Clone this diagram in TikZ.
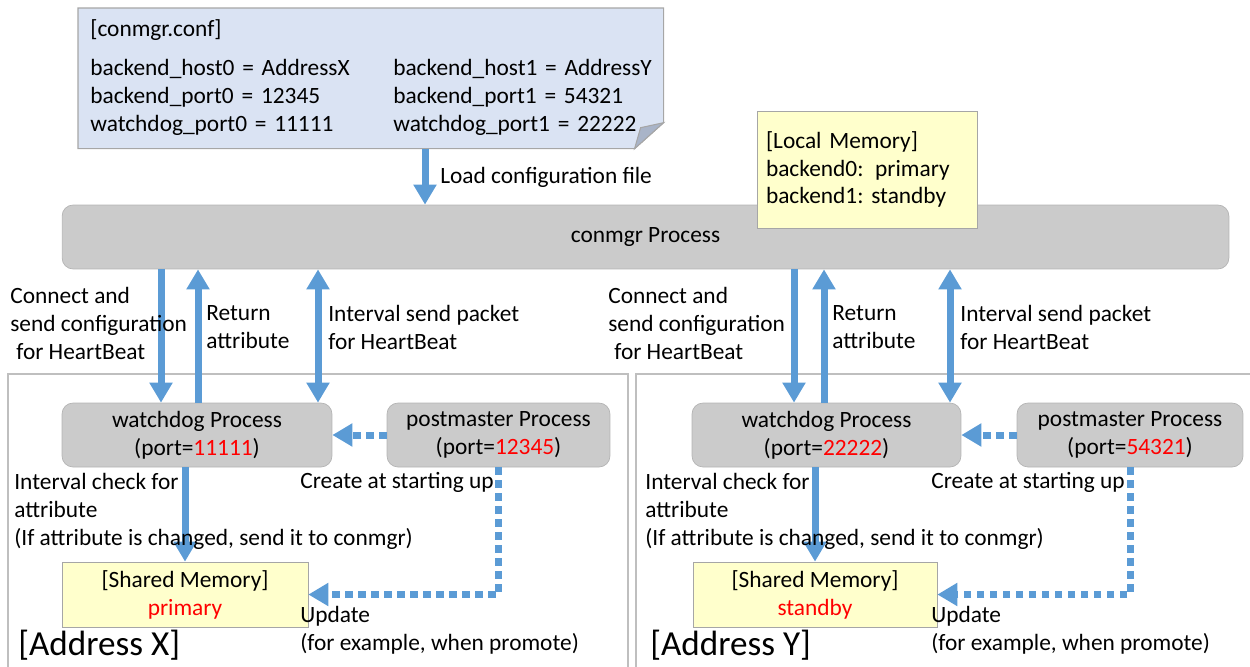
\documentclass[tikz,border=0pt]{standalone}
\usepackage{fontspec}
\setmainfont{Carlito}
\usepackage{xcolor}
\usetikzlibrary{arrows.meta,positioning,backgrounds}
\frenchspacing

\definecolor{flowblue}{HTML}{5B9BD5}
\definecolor{notefill}{HTML}{DAE3F3}
\definecolor{notefold}{HTML}{A9B4C8}
\definecolor{memfill}{HTML}{FFFFCC}
\definecolor{procfill}{HTML}{CBCBCB}
\definecolor{procline}{HTML}{B4B4B4}
\definecolor{frameline}{HTML}{BFBFBF}
\definecolor{portred}{HTML}{FF0000}

\begin{document}
\begin{tikzpicture}[x=0.02cm, y=-0.02cm,
    font=\fontsize{13.3}{15.9}\selectfont,
    proc/.style={rectangle, draw=procline, fill=procfill, rounded corners=0.22cm, minimum height=1.28cm, align=center, inner sep=0pt},
    mem/.style={rectangle, draw=gray!70, fill=memfill, align=center, inner sep=0pt},
    lbl/.style={anchor=north west, align=left, inner sep=0pt},
    frame/.style={draw=frameline, line width=0.8pt},
    arrow/.style={-{Triangle[width=0.44cm,length=0.4cm]}, line width=0.14cm, draw=flowblue},
    dblarrow/.style={{Triangle[width=0.44cm,length=0.4cm]}-{Triangle[width=0.44cm,length=0.4cm]}, line width=0.14cm, draw=flowblue},
    dotarrow/.style={-{Triangle[width=0.44cm,length=0.4cm]}, line width=0.14cm, draw=flowblue, dash pattern=on 0.15cm off 0.11cm}
]
\useasboundingbox (0,0) rectangle (1250,666);

% Address frames
\draw[frame] (8,374) rectangle (628,690);
\draw[frame] (636,374) rectangle (1262,690);

% Configuration file
\node[anchor=north west, minimum width=11.7cm, minimum height=2.8cm, inner xsep=0.24cm, text width=11.22cm, align=left] (conf) at (78,8)
  {\begin{tabular}{@{}p{6.06cm}@{}l@{}}
   [conmgr.conf] & \\[0.24cm]
   backend\_host0 = AddressX & backend\_host1 = AddressY \\
   backend\_port0 = 12345 & backend\_port1 = 54321 \\
   watchdog\_port0 = 11111 & watchdog\_port1 = 22222
   \end{tabular}};
\begin{scope}[on background layer]
\filldraw[fill=notefill, draw=gray!70, line width=0.6pt] (conf.north west) -- (conf.north east) -- ([yshift=0.52cm]conf.south east) -- ([xshift=-0.58cm]conf.south east) -- (conf.south west) -- cycle;
\filldraw[fill=notefold, draw=gray!70, line width=0.6pt] ([xshift=-0.58cm]conf.south east) -- ([xshift=-0.46cm, yshift=0.42cm]conf.south east) -- ([yshift=0.52cm]conf.south east) -- cycle;
\end{scope}

% conmgr
\node[proc, minimum width=23.34cm] (conmgr) at (645.5,237) {conmgr Process};
\node[mem, minimum width=4.4cm, minimum height=2.34cm, inner xsep=0.18cm, text width=4.04cm, align=left] (local) at (867,169.5)
  {[Local Memory]\\backend0:\, primary\\backend1: standby};

% Address X
\node[proc, minimum width=5.4cm] (wdX) at (197,435) {watchdog Process\\(port=\textcolor{portred}{11111})};
\node[proc, minimum width=4.46cm] (pmX) at (498.5,435) {postmaster Process\\(port=\textcolor{portred}{12345})};
\node[mem, minimum width=4.92cm, minimum height=1.3cm] (shmX) at (185,594.5) {[Shared Memory]\\\textcolor{portred}{primary}};

% Address Y
\node[proc, minimum width=5.38cm] (wdY) at (826.5,435) {watchdog Process\\(port=\textcolor{portred}{22222})};
\node[proc, minimum width=4.52cm] (pmY) at (1130,435) {postmaster Process\\(port=\textcolor{portred}{54321})};
\node[mem, minimum width=4.88cm, minimum height=1.3cm] (shmY) at (815,594.5) {[Shared Memory]\\\textcolor{portred}{standby}};

% Arrows
\draw[arrow] (conf.south -| 425,0) -- (conmgr.north -| 425,0);

\draw[arrow] (conmgr.south -| 161,0) -- (wdX.north -| 161,0);
\draw[arrow] (wdX.north -| 198,0) -- (conmgr.south -| 198,0);
\draw[dblarrow] (conmgr.south -| 318,0) -- (wdX.north -| 318,0);
\draw[dotarrow] (pmX.west) -- (wdX.east);
\draw[arrow] (wdX.south -| shmX.north) -- (shmX.north);
\draw[dotarrow] (pmX.south) |- (shmX.east);

\draw[arrow] (conmgr.south -| 794,0) -- (wdY.north -| 794,0);
\draw[arrow] (wdY.north -| 824,0) -- (conmgr.south -| 824,0);
\draw[dblarrow] (conmgr.south -| 950,0) -- (wdY.north -| 950,0);
\draw[dotarrow] (pmY.west) -- (wdY.east);
\draw[arrow] (wdY.south -| shmY.north) -- (shmY.north);
\draw[dotarrow] (pmY.south) |- (shmY.east);

% Labels
\node[lbl] (loadlbl) at (440,167) {Load configuration file};

\node[lbl] (connX) at (10,287) {Connect and\\send configuration\\\hspace{0.12cm}for HeartBeat};
\node[lbl] (retX) at (206,305) {Return\\attribute};
\node[lbl] (hbX) at (328,305) {Interval send packet\\for HeartBeat};
\node[lbl] (chkX) at (14,473) {Interval check for\\attribute\\(If attribute is changed, send it to conmgr)};
\node[lbl] (crX) at (300,472) {Create at starting up};
\node[lbl] (updX) at (300,606) {Update\\(for example, when promote)};
\node[anchor=west, inner sep=0pt, font=\fontsize{20}{24}\selectfont] (addrX) at (18,645) {[Address X]};

\node[lbl] (connY) at (608,287) {Connect and\\send configuration\\\hspace{0.12cm}for HeartBeat};
\node[lbl] (retY) at (832,305) {Return\\attribute};
\node[lbl] (hbY) at (960,305) {Interval send packet\\for HeartBeat};
\node[lbl] (chkY) at (645,473) {Interval check for\\attribute\\(If attribute is changed, send it to conmgr)};
\node[lbl] (crY) at (931,472) {Create at starting up};
\node[lbl] (updY) at (931,606) {Update\\(for example, when promote)};
\node[anchor=west, inner sep=0pt, font=\fontsize{20}{24}\selectfont] (addrY) at (650,645) {[Address Y]};

\end{tikzpicture}
\end{document}
